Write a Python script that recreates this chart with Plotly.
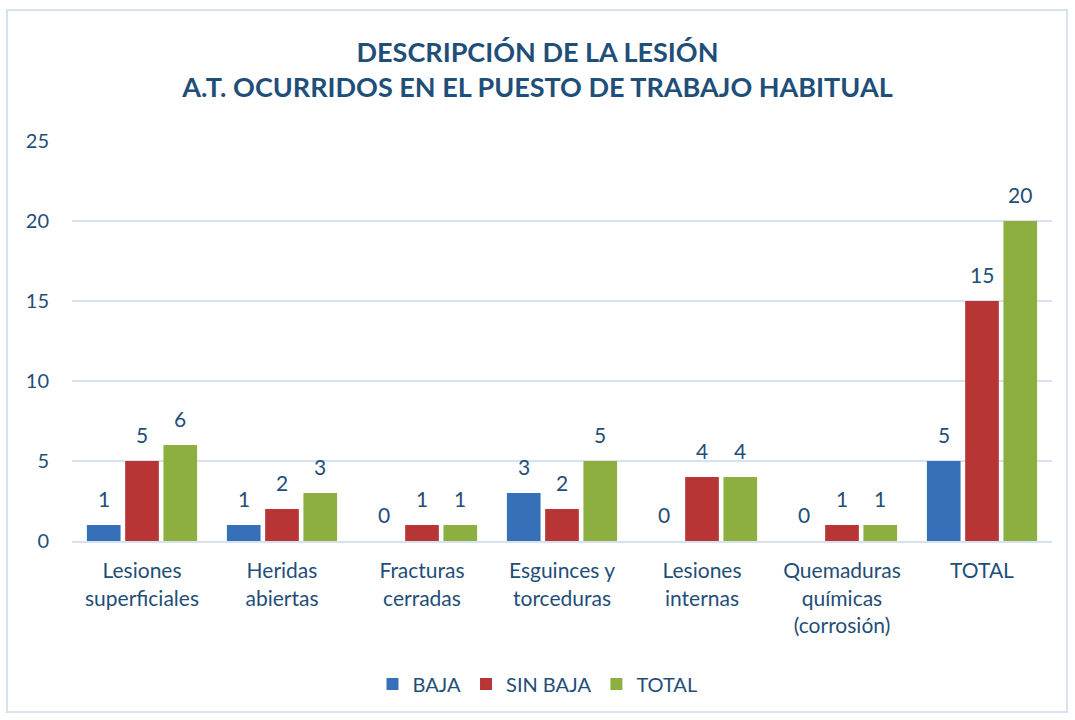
import plotly.graph_objects as go

categories = ["Lesiones<br>superficiales", "Heridas<br>abiertas", "Fracturas<br>cerradas",
              "Esguinces y<br>torceduras", "Lesiones<br>internas",
              "Quemaduras<br>químicas<br>(corrosión)", "TOTAL"]
baja = [1, 1, 0, 3, 0, 0, 5]
sin_baja = [5, 2, 1, 2, 4, 1, 15]
total = [6, 3, 1, 5, 4, 1, 20]
series_names = ["BAJA", "SIN BAJA", "TOTAL"]
colors = ["#3670B8", "#B73535", "#8CAF40"]
y_ticks = [0, 5, 10, 15, 20, 25]

TEXT = "#1F4E79"
FONT = "Lato, 'Open Sans', sans-serif"
BARGAP = 0.18
GROUPGAP = 0.12

fig = go.Figure()
series = [baja, sin_baja, total]
for name, vals, col in zip(series_names, series, colors):
    fig.add_trace(go.Bar(
        x=categories, y=vals, name=name,
        marker=dict(color=col, line=dict(width=0)),
    ))

# data labels placed over each bar (category index + group offset)
slot = (1 - BARGAP) / len(series)
for k, vals in enumerate(series):
    off = (k - (len(series) - 1) / 2) * slot
    for i, v in enumerate(vals):
        fig.add_annotation(x=i + off, y=v, xref="x", yref="y", text=str(v),
                           showarrow=False, yanchor="bottom", yshift=12,
                           font=dict(size=21, color=TEXT, family=FONT))

L, R, T, B = 72, 23, 141, 179
W, H = 1075, 720
pw = W - L - R
ph = H - T - B

fig.update_layout(
    width=W, height=H,
    margin=dict(l=L, r=R, t=T, b=B),
    paper_bgcolor="white", plot_bgcolor="white",
    barmode="group", bargap=BARGAP, bargroupgap=GROUPGAP,
    font=dict(family=FONT, color=TEXT, size=20),
    title=dict(
        text="<b>DESCRIPCIÓN DE LA LESIÓN<br>A.T. OCURRIDOS EN EL PUESTO DE TRABAJO HABITUAL</b>",
        x=0.5, xref="container", xanchor="center",
        y=1 - 62 / H, yref="container", yanchor="middle",
        font=dict(size=27, color=TEXT, family=FONT),
    ),
    legend=dict(
        orientation="h", x=0.5, xanchor="center", xref="container",
        y=1 - 684 / H, yref="container", yanchor="middle",
        font=dict(size=20, color=TEXT, family=FONT),
        traceorder="normal",
    ),
    showlegend=True,
)
fig.update_yaxes(
    range=[0, 25], tickvals=y_ticks, showgrid=True, gridcolor="#D6E2F0", gridwidth=2,
    zeroline=False, showline=False, ticks="", ticklabelstandoff=22,
    tickfont=dict(size=20, color=TEXT, family=FONT),
)
fig.update_xaxes(
    showline=True, linecolor="#D6E2F0", linewidth=2, ticks="",
    tickfont=dict(size=21, color=TEXT, family=FONT), ticklabelstandoff=10,
)
# chart border
fig.add_shape(type="rect", xref="paper", yref="paper",
              x0=(7 - L) / pw, x1=(1067 - L) / pw,
              y0=(H - B - 712) / ph, y1=(H - B - 10) / ph,
              line=dict(color="#D6E2F0", width=2), fillcolor="rgba(0,0,0,0)", layer="below")

fig.write_html("out.html", config={"displayModeBar": False},
               post_script="document.body.style.margin='0';")
